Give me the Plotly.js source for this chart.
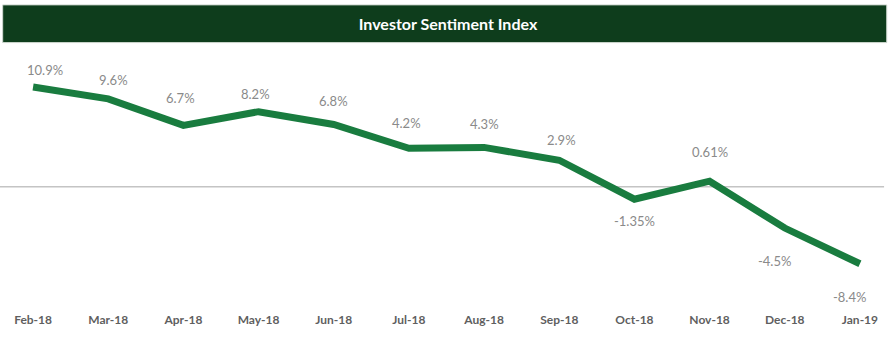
<!DOCTYPE html>
<html><head><meta charset="utf-8">
<script src="https://cdn.plot.ly/plotly-3.0.1.min.js"></script>
<style>html,body{margin:0;padding:0;background:#fff}#chart{width:896px;height:337px}</style>
</head><body><div id="chart"></div>
<script>
const categories = ["Feb-18","Mar-18","Apr-18","May-18","Jun-18","Jul-18","Aug-18","Sep-18","Oct-18","Nov-18","Dec-18","Jan-19"];
const values = [10.9, 9.6, 6.7, 8.2, 6.8, 4.2, 4.3, 2.9, -1.35, 0.61, -4.5, -8.4];
const labels = ["10.9%","9.6%","6.7%","8.2%","6.8%","4.2%","4.3%","2.9%","-1.35%","0.61%","-4.5%","-8.4%"];
const labelShift = [[12,17],[5,19],[-3,27],[-3,18],[0,24],[-2,25],[0,23],[2,20],[0,-22],[0,29],[-10,-33],[-10,-33]];

const annotations = categories.map((c,i)=>({
  x: c, y: values[i], xref:'x', yref:'y', text: labels[i], showarrow:false,
  xshift: labelShift[i][0], yshift: labelShift[i][1],
  font:{family:'Lato, sans-serif', size:13, color:'#8a8a8a'}
}));

const trace = {
  x: categories, y: values, type:'scatter', mode:'lines',
  line:{color:'#197c3f', width:7},
  hoverinfo:'skip'
};

const layout = {
  width:896, height:337,
  margin:{l:0, r:3, t:60, b:32},
  paper_bgcolor:'#ffffff', plot_bgcolor:'#ffffff',
  showlegend:false,
  title:{text:'<b>Investor Sentiment Index</b>', x:0.5, xanchor:'center', y:0.927, yanchor:'middle',
    font:{family:'Lato, sans-serif', size:16, color:'#ffffff'}},
  xaxis:{type:'category', range:[-0.44,11.44], showgrid:false, zeroline:false, showline:false,
    ticks:'', tickfont:{family:'Lato, sans-serif', size:12, color:'#5f5f5f', weight:'bold'}, ticklabelstandoff:6},
  yaxis:{range:[-12.9,13.84], showgrid:false, zeroline:false, showline:false, showticklabels:false, ticks:''},
  shapes:[
    {type:'rect', xref:'paper', yref:'paper', x0:0.003, x1:0.993, y0:1.071, y1:1.225,
      fillcolor:'#0e3d1c', line:{color:'#cfd8d0', width:1}, layer:'below'},
    {type:'line', xref:'paper', yref:'y', x0:0, x1:0.99, y0:0, y1:0,
      line:{color:'#c4c4c4', width:1.5}, layer:'below'}
  ],
  annotations: annotations
};
Plotly.newPlot('chart',[trace],layout,{displayModeBar:false, staticPlot:true});
</script></body></html>
